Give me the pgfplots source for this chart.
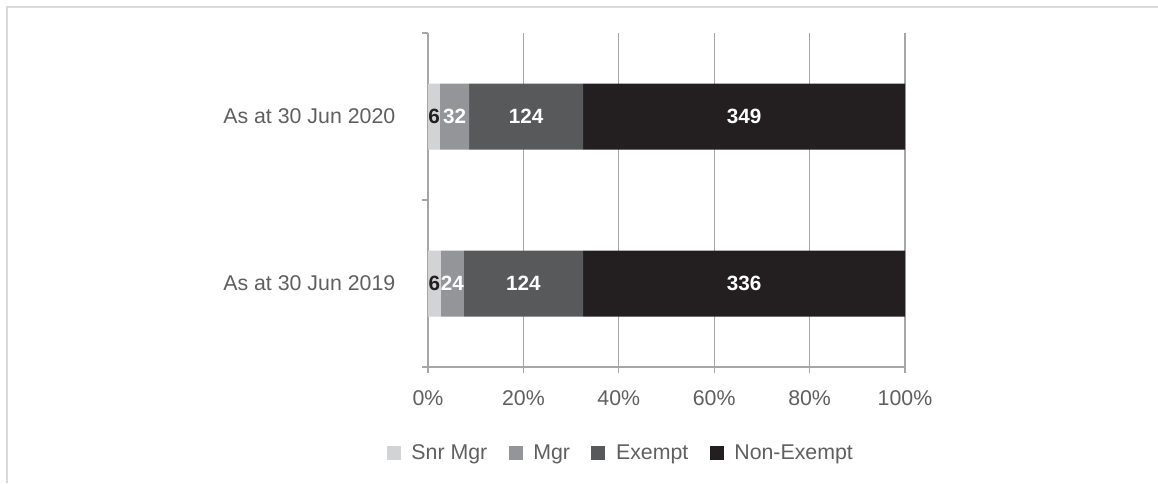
\documentclass[border=0pt]{standalone}
\usepackage{fontspec}
\setmainfont{Liberation Sans}
\usepackage{pgfplots}
\pgfplotsset{compat=1.18}

\definecolor{snr}{HTML}{D1D3D4}
\definecolor{mgr}{HTML}{939598}
\definecolor{exm}{HTML}{58595B}
\definecolor{nonex}{HTML}{231F20}
\definecolor{txtgray}{HTML}{5F5F5F}
\definecolor{axgray}{HTML}{A6A6A6}
\definecolor{framegray}{HTML}{D9D9D9}

\newcommand{\lbl}{\fontsize{16}{19}\selectfont}
\newcommand{\num}{\fontsize{15.5}{18}\selectfont\bfseries}

\begin{document}
\begin{tikzpicture}
% canvas 1158x483 px at 0.75pt per px
\path[use as bounding box] (0,0) rectangle (868.5pt,-362.25pt);
\draw[framegray, line width=1.1pt] (5.25pt,-362.25pt) -- (5.25pt,-5.25pt) -- (868.5pt,-5.25pt);

\begin{axis}[
    at={(321pt,-275.25pt)}, anchor=south west,
    scale only axis,
    width=357.75pt, height=250.5pt,
    xbar stacked,
    bar width=49.5pt,
    xmin=0, xmax=100,
    ymin=0, ymax=2,
    axis x line*=bottom,
    axis y line*=left,
    axis line style={draw=axgray, line width=1pt, -},
    tick align=outside,
    major tick length=4.5pt,
    every tick/.style={draw=axgray, line width=1pt},
    xtick={0,20,40,60,80,100},
    xticklabels={0\%,20\%,40\%,60\%,80\%,100\%},
    xticklabel style={font=\lbl, text=txtgray, yshift=-10pt},
    xmajorgrids,
    major grid style={draw=axgray, line width=1pt},
    ytick={0,1,2},
    yticklabels={,,},
    extra y ticks={0.5,1.5},
    extra y tick labels={As at 30 Jun 2019, As at 30 Jun 2020},
    extra y tick style={major tick length=0pt, yticklabel style={font=\lbl, text=txtgray, xshift=-21pt}},
    legend columns=4,
    legend style={at={(0.405,-0.2575)}, anchor=center, draw=none, fill=none,
        font=\lbl, text=txtgray,
        /tikz/every odd column/.append style={column sep=6pt},
        /tikz/every even column/.append style={column sep=14pt}},
    legend image code/.code={\fill[#1] (0pt,-4.9pt) rectangle (10.5pt,5.6pt);},
]
% shares in percent of headcount per date; counts shown as labels
\addplot[fill=snr, draw=none] coordinates {(2.7,0.5) (2.5,1.5)};
\addlegendentry{Snr Mgr}
\addplot[fill=mgr, draw=none] coordinates {(4.8,0.5) (6.1,1.5)};
\addlegendentry{Mgr}
\addplot[fill=exm, draw=none] coordinates {(25.0,0.5) (23.9,1.5)};
\addlegendentry{Exempt}
\addplot[fill=nonex, draw=none] coordinates {(67.5,0.5) (67.5,1.5)};
\addlegendentry{Non-Exempt}

% label spots (segment centres)
\coordinate (a1) at (axis cs:1.3,1.5);
\coordinate (a2) at (axis cs:5.6,1.5);
\coordinate (a3) at (axis cs:20.55,1.5);
\coordinate (a4) at (axis cs:66.25,1.5);
\coordinate (b1) at (axis cs:1.35,0.5);
\coordinate (b2) at (axis cs:5.1,0.5);
\coordinate (b3) at (axis cs:20.0,0.5);
\coordinate (b4) at (axis cs:66.25,0.5);
\end{axis}

% segment labels (counts), drawn over the bars
\node[font=\num, text=nonex] at (a1) {6};
\node[font=\num, text=white] at (a2) {32};
\node[font=\num, text=white] at (a3) {124};
\node[font=\num, text=white] at (a4) {349};
\node[font=\num, text=nonex] at (b1) {6};
\node[font=\num, text=white] at (b2) {24};
\node[font=\num, text=white] at (b3) {124};
\node[font=\num, text=white] at (b4) {336};
\end{tikzpicture}
\end{document}
